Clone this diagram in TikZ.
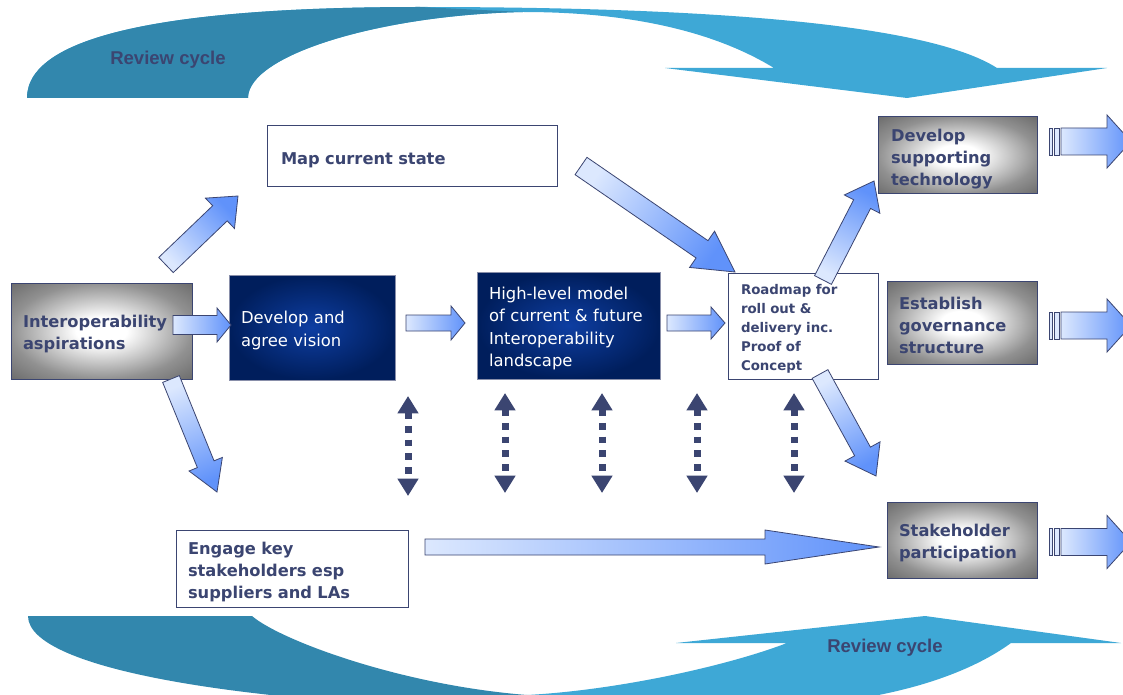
\documentclass[tikz,border=0pt]{standalone}
\usepackage{fontspec}
\setmainfont{DejaVu Sans}
\newfontfamily\revfont{Liberation Sans}
\usetikzlibrary{calc,arrows.meta}

\definecolor{txt}{RGB}{59,69,113}
\definecolor{tealdark}{RGB}{50,135,173}
\definecolor{teallight}{RGB}{62,168,214}
\definecolor{arrL}{RGB}{220,232,254}
\definecolor{arrD}{RGB}{96,146,250}
\definecolor{gmid}{RGB}{145,145,145}
\definecolor{gedge}{RGB}{106,106,106}
\definecolor{navyc}{RGB}{14,62,162}
\definecolor{navye}{RGB}{0,30,92}

\pgfdeclareradialshading{grayglow}{\pgfpoint{0bp}{0bp}}{color(0bp)=(white); color(7bp)=(white); color(25bp)=(gmid); color(36bp)=(gedge); color(50bp)=(gedge)}
\pgfdeclareradialshading{navyglow}{\pgfpoint{0bp}{0bp}}{color(0bp)=(navyc); color(25bp)=(navye); color(50bp)=(navye)}

\newcommand\topfix[1]{\rule{0pt}{#1}}

\tikzset{
  boldtxt/.style={font=\fontsize{12.2}{16.5}\selectfont\bfseries, text=txt},
  wbox/.style={draw=txt, line width=0.75pt, fill=white, boldtxt, align=left, inner xsep=9pt, inner ysep=0pt},
  gbox/.style={draw=txt, line width=0.75pt, shading=grayglow, boldtxt, align=left, inner xsep=9pt, inner ysep=0pt},
  nbox/.style={draw=txt!60, line width=0.75pt, shading=navyglow, text=white, font=\fontsize{12.3}{16.8}\selectfont, align=left, inner xsep=9pt, inner ysep=0pt},
  blockarrow/.style={draw=txt, line width=0.6pt, top color=arrD, bottom color=arrL},
  dotarrow/.style={draw=txt, line width=5.25pt, dash pattern=on 4.9pt off 5.4pt,
     {Triangle[width=15pt,length=13pt]}-{Triangle[width=15pt,length=13pt]}},
  revlabel/.style={font=\revfont\fontsize{13.9}{16}\selectfont\bfseries, text=txt}
}

% #1 tail, #2 tip, #3 shaft half-width px, #4 head half-width px, #5 head length px
\newcommand\blockarr[5]{%
  \pgfmathanglebetweenpoints{\pgfpointanchor{#1}{center}}{\pgfpointanchor{#2}{center}}%
  \pgfmathsetmacro\bAng{\pgfmathresult-90}%
  \pgfmathsetmacro\bW{#3*0.75}\pgfmathsetmacro\bH{#4*0.75}\pgfmathsetmacro\bL{#5*0.75}%
  \coordinate (hb) at ($(#2)!\bL pt!(#1)$);
  \draw[blockarrow, shading angle=\bAng] ($(#1)!\bW pt!-90:(#2)$) -- ($(hb)!\bW pt!-90:(#2)$)
     -- ($(hb)!\bH pt!-90:(#2)$) -- (#2) -- ($(hb)!\bH pt!90:(#2)$)
     -- ($(hb)!\bW pt!90:(#2)$) -- ($(#1)!\bW pt!90:(#2)$) -- cycle;
}

\begin{document}
\begin{tikzpicture}[x=0.75pt,y=-0.75pt]
\useasboundingbox (0,0) rectangle (1123,695);
\fill[white] (0,0) rectangle (1123,695);
\begin{scope}
\clip (0,0) rectangle (1123,695);

% ---- top review cycle arrow ----
\fill[teallight] (27,98) .. controls (27,33) and (180,7) .. (420,7)
   .. controls (720,7) and (930,25) .. (997,68) -- (1107,68) -- (907,98) -- (665,68) -- (774,68)
   .. controls (720,35) and (640,12) .. (523,12)
   .. controls (380,15) and (248,55) .. (248,98) -- cycle;
\fill[tealdark] (27,98) .. controls (27,33) and (180,7) .. (420,7) -- (523,12)
   .. controls (380,15) and (248,55) .. (248,98) -- cycle;
\node[revlabel] (rev1) at (168,60) {Review cycle};

% ---- bottom review cycle arrow ----
\fill[teallight] (527,695) .. controls (620,690) and (730,665) .. (787,643) -- (676,643) -- (925,616)
   -- (1121,643) -- (1011,643) .. controls (960,680) and (880,700) .. (800,705) -- (527,705) -- cycle;
\fill[tealdark] (28,616) -- (252,616) .. controls (280,640) and (400,685) .. (527,695) -- (527,710)
   .. controls (250,705) and (28,670) .. (28,616) -- cycle;
\node[revlabel] (rev2) at (885,648) {Review cycle};

% ---- boxes ----
\node[gbox, text width=117.75pt, minimum height=72pt] (interop) at (101.5,331) {\topfix{13.8pt}Interoperability\\aspirations};
\node[nbox, text width=106.5pt, minimum height=78.75pt] (vision) at (312,327.5) {\topfix{13.8pt}Develop and\\agree vision};
\node[nbox, text width=119.25pt, minimum height=80.25pt] (model) at (568.5,325.5) {\topfix{13.8pt}High-level model\\of current \& future\\Interoperability\\landscape};
\node[wbox, font=\fontsize{10}{14.25}\selectfont\bfseries, inner xsep=9.75pt, text width=93pt, minimum height=79.5pt] (roadmap) at (803,326) {\topfix{12.2pt}Roadmap for\\roll out \&\\delivery inc.\\Proof of\\Concept};
\node[wbox, inner xsep=10.5pt, text width=196.5pt, minimum height=45.75pt] (mapcs) at (412,156.5) {\topfix{13.8pt}Map current state};
\node[wbox, text width=156pt, minimum height=57.75pt] (engage) at (292,568.5) {\topfix{14.2pt}Engage key\\stakeholders esp\\suppliers and LAs};
\node[gbox, inner xsep=9.75pt, text width=99.75pt, minimum height=57.75pt] (tech) at (957.5,155.5) {\topfix{14.2pt}Develop\\supporting\\technology};
\node[gbox, text width=94.5pt, minimum height=62.25pt] (gov) at (962,322.5) {\topfix{13.8pt}Establish\\governance\\structure};
\node[gbox, text width=94.5pt, minimum height=57pt] (stake) at (962,540) {\topfix{13.8pt}Stakeholder\\participation};

% ---- block arrows ----
\coordinate (a1s) at (173,325); \coordinate (a1e) at (231,325);
\coordinate (a2s) at (406,323); \coordinate (a2e) at (465,323);
\coordinate (a3s) at (667,323); \coordinate (a3e) at (725,323);
\coordinate (a4s) at (166,265); \coordinate (a4e) at (238,196);
\coordinate (a5s) at (581,166); \coordinate (a5e) at (735,272);
\coordinate (a6s) at (171,379); \coordinate (a6e) at (217,492);
\coordinate (a7s) at (823,280); \coordinate (a7e) at (874,181);
\coordinate (a8s) at (820,374); \coordinate (a8e) at (876,476);
\coordinate (a9s) at (425,547); \coordinate (a9e) at (879,547);
\blockarr{a1s}{a1e}{9.5}{17}{14}
\blockarr{a2s}{a2e}{8}{17}{14}
\blockarr{a3s}{a3e}{8}{16}{14}
\blockarr{a4s}{a4e}{10.5}{21}{25}
\blockarr{a5s}{a5e}{10.5}{22}{40}
\blockarr{a6s}{a6e}{9}{18}{30}
\blockarr{a7s}{a7e}{9.5}{20}{26}
\blockarr{a8s}{a8e}{9}{20}{28}
\blockarr{a9s}{a9e}{8}{17}{114}

% ---- striped output arrows ----
\foreach \yy/\nm in {141.5/o1, 325.5/o2, 542/o3}{
  \draw[draw=txt, line width=0.5pt, fill=arrL] (1049,\yy-13.5) rectangle (1052,\yy+13.5);
  \draw[draw=txt, line width=0.5pt, fill=arrL] (1054,\yy-13.5) rectangle (1059,\yy+13.5);
  \coordinate (\nm s) at (1061,\yy); \coordinate (\nm e) at (1131,\yy);
  \blockarr{\nm s}{\nm e}{13.5}{26.5}{24}
}

% ---- dotted double arrows ----
\coordinate (d1a) at (408,396); \coordinate (d1b) at (408,496);
\coordinate (d2a) at (505,393); \coordinate (d2b) at (505,493);
\coordinate (d3a) at (602,393); \coordinate (d3b) at (602,493);
\coordinate (d4a) at (697,393); \coordinate (d4b) at (697,493);
\coordinate (d5a) at (794,393); \coordinate (d5b) at (794,493);
\draw[dotarrow] (d1a) -- (d1b);
\draw[dotarrow] (d2a) -- (d2b);
\draw[dotarrow] (d3a) -- (d3b);
\draw[dotarrow] (d4a) -- (d4b);
\draw[dotarrow] (d5a) -- (d5b);
\end{scope}
\end{tikzpicture}
\end{document}
